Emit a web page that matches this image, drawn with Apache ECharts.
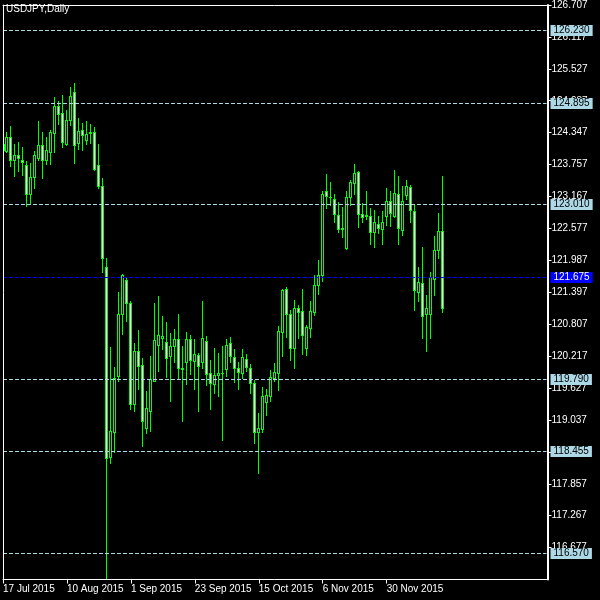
<!DOCTYPE html>
<html><head><meta charset="utf-8">
<script src="https://cdn.jsdelivr.net/npm/echarts@6/dist/echarts.min.js"></script>
<style>html,body{margin:0;padding:0;background:#000;}#c{width:600px;height:600px;}</style>
</head><body><div id="c"></div>
<script>
const symbolTitle = 'USDJPY,Daily';
const opens = [124.14,124.01,124.26,123.84,123.93,123.84,123.75,123.22,123.53,123.88,
124.11,123.85,123.99,124.35,124.84,124.71,124.13,124.59,125.10,124.16,
124.39,124.21,124.35,124.36,123.75,123.37,121.86,118.35,118.81,119.85,
120.99,121.63,121.19,119.33,120.31,120.05,118.89,119.21,119.76,120.42,
120.56,120.48,120.21,120.40,120.54,119.97,120.10,120.53,120.12,120.23,
120.10,120.50,119.91,119.71,119.86,119.90,119.97,120.45,120.20,119.99,
119.90,120.16,120.00,119.72,118.82,118.87,119.36,119.47,119.81,119.90,
120.67,121.46,120.99,120.37,121.10,121.05,120.37,120.74,121.04,121.54,
121.72,123.26,123.15,123.12,122.83,122.56,122.21,123.15,123.41,123.62,
122.85,122.81,122.81,122.52,122.65,122.56,122.81,123.08,122.81,123.22,
122.55,123.19,123.35,122.90,121.40,121.56,120.99,121.00,121.65,122.18,
122.53];
const closes = [124.03,124.27,123.85,123.94,123.87,123.80,123.22,123.53,123.93,124.11,
123.84,124.02,124.36,124.84,124.70,124.18,124.59,125.02,124.11,124.37,
124.30,124.33,124.36,123.67,123.36,122.03,118.34,118.83,119.82,120.99,
121.71,121.20,119.34,120.31,120.03,119.01,119.26,119.79,120.51,120.61,
120.58,120.18,120.40,120.54,119.99,119.99,120.54,120.14,120.25,120.03,
120.56,119.89,119.72,119.86,119.90,119.91,120.43,120.21,119.99,119.92,
120.20,120.02,119.72,118.82,118.89,119.47,119.50,119.83,119.93,120.68,
121.43,120.99,120.37,121.10,121.04,120.60,120.75,121.05,121.54,121.72,
123.22,123.18,123.16,122.84,122.56,122.59,123.16,123.44,123.61,122.84,
122.78,122.82,122.51,122.70,122.58,122.70,123.08,122.86,123.24,122.59,
123.08,123.37,122.92,121.43,121.58,120.95,121.10,121.67,122.18,122.53,
121.11];
const lows = [124.00,123.99,123.74,123.55,123.64,123.57,122.99,123.05,123.32,123.84,
123.50,123.76,123.76,123.99,124.51,124.08,124.11,124.48,123.78,124.05,
124.03,124.14,124.16,123.65,123.32,121.78,116.12,118.24,118.44,119.76,
120.63,120.86,119.24,119.20,119.61,118.56,118.79,118.83,119.75,119.94,
120.34,119.83,119.38,120.10,119.79,119.02,119.71,119.88,119.60,119.21,
119.99,119.69,119.23,119.53,119.48,118.66,119.85,120.10,119.73,119.60,
119.82,119.94,119.53,118.61,118.05,118.81,119.12,119.38,119.75,119.59,
120.21,120.57,120.15,120.00,120.56,120.26,120.24,120.57,120.97,121.37,
121.60,122.95,123.01,122.70,122.52,122.41,122.20,123.01,123.21,122.60,
122.70,122.76,122.29,122.23,122.49,122.29,122.64,122.62,122.78,122.29,
122.46,123.13,122.70,121.06,121.23,120.56,120.31,120.56,121.35,122.03,
121.04];
const highs = [124.17,124.36,124.47,124.14,124.17,124.08,123.83,123.79,124.01,124.56,
124.36,124.27,124.40,125.00,124.94,125.05,124.76,125.19,125.26,124.62,
124.53,124.56,124.51,124.45,124.14,123.50,122.03,120.39,120.02,121.40,
121.73,121.66,121.24,120.46,120.70,120.19,119.58,120.22,121.20,121.32,
120.96,120.85,120.64,120.71,120.99,120.40,120.66,120.61,120.53,120.28,
121.23,120.58,120.15,120.36,120.27,120.40,120.54,120.57,120.34,120.11,
120.35,120.25,120.07,119.77,119.17,119.65,119.61,119.96,120.09,120.77,
121.46,121.49,121.07,121.25,121.17,121.46,120.80,121.23,121.71,122.00,
123.26,123.59,123.43,123.22,123.06,122.98,123.27,123.47,123.76,123.64,
123.04,123.26,122.95,122.92,122.80,122.89,123.33,123.27,123.65,123.55,
123.37,123.47,123.38,123.02,121.86,122.23,121.34,121.78,122.43,122.87,
123.55];
const levelLines = [126.230, 124.895, 123.010, 119.790, 118.455, 116.570];
const bidLine = 121.675;
const yMin = 116.087, yMax = 126.707, yStep = 0.59;
const xLabelEvery = 16;
const emptySlots = 26;
const monthNames = ['Jan','Feb','Mar','Apr','May','Jun','Jul','Aug','Sep','Oct','Nov','Dec'];

const dates = [];
let d = new Date(Date.UTC(2015, 6, 17));
while (dates.length < opens.length) {
  const wd = d.getUTCDay();
  if (wd !== 0 && wd !== 6) dates.push(d.getUTCDate() + ' ' + monthNames[d.getUTCMonth()] + ' ' + d.getUTCFullYear());
  d = new Date(d.getTime() + 86400000);
}
const categories = dates.concat(Array.from({length: emptySlots}, (_, k) => 'pad' + k));
const candleData = opens.map((o, i) => [i, o, closes[i], lows[i], highs[i]]);
const levelData = levelLines.map(v => [0, v, 0]).concat([[0, bidLine, 1]]);

const FONT = '"Liberation Sans", Arial, sans-serif';
const FS = 10;
const GREEN = '#00ff00';
const showIdx = (i) => i % xLabelEvery === 0 && i < dates.length;

function renderCandle(params, api) {
  const i = api.value(0);
  const o = api.value(1), c = api.value(2), l = api.value(3), h = api.value(4);
  const x = Math.floor(api.coord([i, o])[0]);
  const yH = Math.round(api.coord([i, h])[1]);
  const yL = Math.round(api.coord([i, l])[1]);
  const yTop = Math.round(api.coord([i, Math.max(o, c)])[1]);
  const yBot = Math.round(api.coord([i, Math.min(o, c)])[1]);
  const children = [
    {type: 'rect', shape: {x: x, y: yH, width: 1, height: yL - yH + 1}, style: {fill: GREEN}},
    {type: 'rect', shape: {x: x - 1, y: yTop, width: 3, height: yBot - yTop + 1}, style: {fill: GREEN}}
  ];
  if (yBot - yTop >= 2) {
    children.push({type: 'rect', shape: {x: x, y: yTop + 1, width: 1, height: yBot - yTop - 1},
      style: {fill: c > o ? '#000000' : '#ffffff'}});
  }
  return {type: 'group', children: children};
}

function renderLevel(params, api) {
  const v = api.value(1);
  const kind = api.value(2);
  const cs = params.coordSys;
  const pt = api.coord([0, v]);
  const y = Math.round(pt[1] - 0.5) + 0.5;
  const lineColor = kind === 1 ? '#0000ff' : '#add8e6';
  const textColor = kind === 1 ? '#ffffff' : '#000000';
  return {
    type: 'group',
    children: [{
      type: 'line',
      shape: {x1: cs.x, y1: y, x2: cs.x + cs.width, y2: y},
      style: {stroke: lineColor, lineWidth: 1, lineDash: [4, 2]}
    }, {
      type: 'text', x: cs.x + cs.width + 4, y: y,
      style: {text: v.toFixed(3), fill: textColor, backgroundColor: lineColor,
        padding: [1, 3, 0, 3], font: FS + 'px ' + FONT, align: 'left', verticalAlign: 'middle', lineHeight: 10}
    }]
  };
}

const chart = echarts.init(document.getElementById('c'), null, {renderer: 'canvas'});
chart.setOption({
  backgroundColor: '#000',
  animation: false,
  title: {text: symbolTitle, left: 6, top: 4, padding: 0, textStyle: {color: '#fff', fontSize: 10, fontWeight: 'normal', fontFamily: FONT}},
  grid: {left: 2.5, top: 2.5, width: 544, height: 577, containLabel: false},
  xAxis: [{
    type: 'category', data: categories, boundaryGap: false,
    axisLine: {show: true, lineStyle: {color: '#fff', width: 1}},
    axisTick: {show: true, length: 4, interval: showIdx, lineStyle: {color: '#fff'}},
    axisLabel: {interval: showIdx, color: '#fff', fontSize: FS, fontFamily: FONT, align: 'left', margin: 5,
      formatter: v => v.indexOf('pad') === 0 ? '' : v},
    splitLine: {show: false}
  }, {
    type: 'category', data: categories, boundaryGap: false, position: 'top', z: 10,
    axisLine: {show: true, lineStyle: {color: '#fff', width: 1}},
    axisTick: {show: false}, axisLabel: {show: false}, splitLine: {show: false}
  }],
  yAxis: [{
    type: 'value', position: 'right', min: yMin, max: yMax, interval: yStep, offset: 1,
    axisLine: {show: true, lineStyle: {color: '#fff', width: 2}},
    axisTick: {show: true, length: 4, lineStyle: {color: '#fff'}},
    axisLabel: {color: '#fff', fontSize: FS, fontFamily: FONT, margin: 4, showMinLabel: false,
      formatter: v => v.toFixed(3)},
    splitLine: {show: false}
  }, {
    type: 'value', position: 'left', min: yMin, max: yMax, z: 10,
    axisLine: {show: true, lineStyle: {color: '#fff', width: 1}},
    axisTick: {show: false}, axisLabel: {show: false}, splitLine: {show: false}
  }],
  series: [{
    type: 'custom', name: 'USDJPY', data: candleData, xAxisIndex: 0, yAxisIndex: 0, clip: true,
    encode: {x: 0, y: [1, 2, 3, 4]},
    renderItem: renderCandle
  }, {
    type: 'custom', data: levelData, xAxisIndex: 0, yAxisIndex: 0, clip: false, silent: true, z: 5,
    encode: {x: 0, y: 1},
    renderItem: renderLevel
  }]
});
</script></body></html>
